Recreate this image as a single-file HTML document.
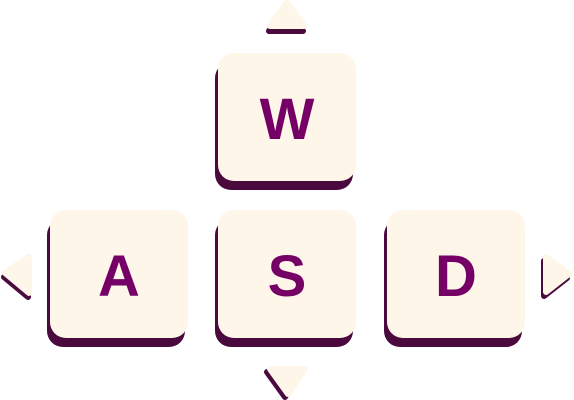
<!DOCTYPE html>
<html><head><style>
html,body{margin:0;padding:0;background:#fff;width:574px;height:400px;overflow:hidden}
.k{position:absolute;width:138px;height:128px;background:#fef6e8;border-radius:16px;box-shadow:-3px 9px 0 #4a0a3e;font-family:"Liberation Sans",sans-serif;font-size:58px;font-weight:bold;color:#750066;display:flex;align-items:center;justify-content:center;line-height:1;box-sizing:border-box;padding-top:6px}
svg{position:absolute;left:0;top:0}
</style></head><body>
<svg width="574" height="400">
<g stroke-linejoin="round" stroke-width="6">
<polygon points="287,3 270,26 304,26" transform="translate(-1,5)" fill="#4a0a3e" stroke="#4a0a3e"/>
<polygon points="287,3 270,26 304,26" fill="#fef6e8" stroke="#fef6e8"/>
<polygon points="288,394 270,369 305,369" transform="translate(-3,3)" fill="#4a0a3e" stroke="#4a0a3e"/>
<polygon points="288,394 270,369 305,369" fill="#fef6e8" stroke="#fef6e8"/>
<polygon points="5,273 29,257 29,293" transform="translate(-1,4)" fill="#4a0a3e" stroke="#4a0a3e"/>
<polygon points="5,273 29,257 29,293" fill="#fef6e8" stroke="#fef6e8"/>
<polygon points="569,274 546,257 546,292" transform="translate(-2,4)" fill="#4a0a3e" stroke="#4a0a3e"/>
<polygon points="569,274 546,257 546,292" fill="#fef6e8" stroke="#fef6e8"/>
</g>
</svg>
<div class="k" style="left:218px;top:53px">W</div>
<div class="k" style="left:50px;top:210px">A</div>
<div class="k" style="left:218px;top:210px">S</div>
<div class="k" style="left:387px;top:210px">D</div>
</body></html>
